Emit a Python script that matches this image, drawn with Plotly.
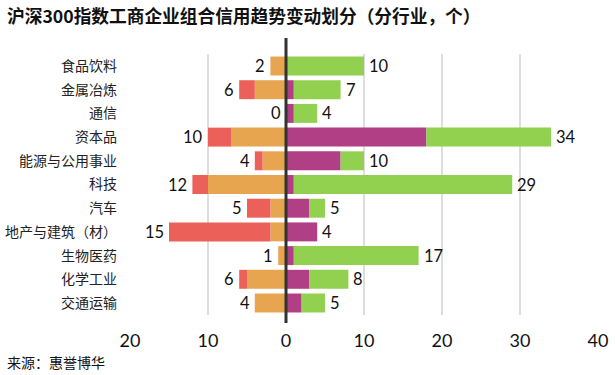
import plotly.graph_objects as go

categories = ["食品饮料", "金属冶炼", "通信", "资本品", "能源与公用事业", "科技",
              "汽车", "地产与建筑（材）", "生物医药", "化学工业", "交通运输"]
# left side (deteriorating), drawn as negatives
orange_vals = [2, 4, 0, 7, 3, 10, 2, 2, 1, 5, 4]
red_vals = [0, 2, 0, 3, 1, 2, 3, 13, 0, 1, 0]
# right side
purple_vals = [0, 1, 1, 18, 7, 1, 3, 4, 1, 3, 2]
green_vals = [10, 6, 3, 16, 3, 28, 2, 0, 16, 5, 3]

tick_vals = [-20, -10, 0, 10, 20, 30, 40]
tick_text = ["20", "10", "0", "10", "20", "30", "40"]

title_text = "沪深300指数工商企业组合信用趋势变动划分（分行业，个）"
source_text = "来源：惠誉博华"

left_total = [o + r for o, r in zip(orange_vals, red_vals)]
right_total = [p + g for p, g in zip(purple_vals, green_vals)]

ORANGE = "#E8A54F"
RED = "#EB615A"
PURPLE = "#B03F86"
GREEN = "#92D050"

fig = go.Figure()
fig.add_trace(go.Bar(y=categories, x=[-v for v in orange_vals], orientation="h",
                     marker=dict(color=ORANGE, line=dict(width=0)), name="o"))
fig.add_trace(go.Bar(y=categories, x=[-v for v in red_vals], orientation="h",
                     marker=dict(color=RED, line=dict(width=0)), name="r"))
fig.add_trace(go.Bar(y=categories, x=purple_vals, orientation="h",
                     marker=dict(color=PURPLE, line=dict(width=0)), name="p"))
fig.add_trace(go.Bar(y=categories, x=green_vals, orientation="h",
                     marker=dict(color=GREEN, line=dict(width=0)), name="g"))

label_font = dict(family="Lato, 'Noto Sans', sans-serif", size=16.5, color="#111")
for cat, lt, rt in zip(categories, left_total, right_total):
    fig.add_annotation(x=-lt, y=cat, text=str(lt), showarrow=False,
                       xanchor="right", xshift=-3, font=label_font)
    fig.add_annotation(x=rt, y=cat, text=str(rt), showarrow=False,
                       xanchor="left", xshift=3, font=label_font)

ML, MR, MT, MB = 130, 17, 54, 60
plot_h = 375 - MT - MB
plot_w = 615 - ML - MR

fig.add_annotation(x=-(ML - 5) / plot_w, y=1 + (MT - 15) / plot_h,
                   xref="paper", yref="paper", xanchor="left", yanchor="middle",
                   text="<b>" + title_text + "</b>", showarrow=False,
                   font=dict(family="Noto Sans CJK SC", size=17.7, color="#111"))
fig.add_annotation(x=-(ML - 5) / plot_w, y=-(362 - (375 - MB)) / plot_h,
                   xref="paper", yref="paper", xanchor="left", yanchor="middle",
                   text=source_text, showarrow=False,
                   font=dict(family="Noto Sans CJK SC", size=14, color="#111"))

fig.add_shape(type="line", xref="x", yref="paper", x0=0, x1=0,
              y0=-(323 - (375 - MB)) / plot_h, y1=1 + (MT - 38) / plot_h,
              line=dict(color="#333333", width=3), layer="above")

fig.update_layout(
    width=615, height=375,
    margin=dict(l=ML, r=MR, t=MT, b=MB, autoexpand=False),
    barmode="relative", bargap=0.2,
    showlegend=False,
    plot_bgcolor="white", paper_bgcolor="white",
    xaxis=dict(range=[-20, 40], tickvals=tick_vals, ticktext=tick_text,
               showgrid=True, gridcolor="#DDDDDD", gridwidth=2, zeroline=False,
               showline=False, ticks="", ticklabelstandoff=13, automargin=False,
               tickfont=dict(family="Lato, 'Noto Sans', sans-serif", size=18, color="#111")),
    yaxis=dict(autorange="reversed", showgrid=False, zeroline=False, showline=False,
               ticks="", ticklabelstandoff=12, automargin=False,
               tickfont=dict(family="Noto Sans CJK SC", size=14, color="#222")),
)

fig.write_html("out.html", config={"displayModeBar": False},
               post_script="document.body.style.margin='0';")
